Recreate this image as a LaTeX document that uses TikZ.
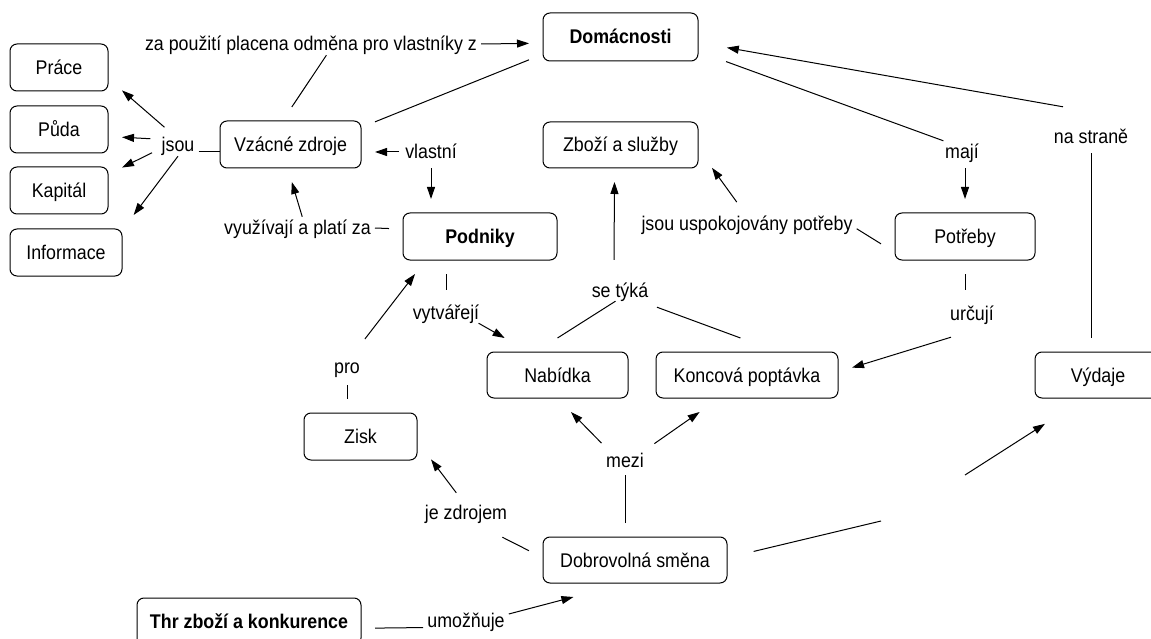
\documentclass[tikz,border=0pt]{standalone}
\usepackage{fontspec}
\setmainfont{Liberation Sans}[FakeStretch=0.9]
\usetikzlibrary{arrows.meta}
\begin{document}
\begin{tikzpicture}[x=1pt,y=-1pt,font=\fontsize{19.8pt}{22pt}\selectfont,
 box/.style={draw,rounded corners=7pt,line width=1pt,minimum height=47pt,text height=14pt,text depth=0pt,inner sep=0pt,outer sep=14pt},
 lab/.style={inner sep=4pt,text height=14pt,text depth=0pt},
 ln/.style={line width=1pt},
 arr/.style={ln,-{Triangle[length=12pt,width=8pt]}}]
\fill[white] (0,0) rectangle (1151,639);
\useasboundingbox (0,0) rectangle (1151,639);
\clip (0,0) rectangle (1151,639);
% concepts
\node[box,minimum width=98pt] (prace) at (59,67.5) {Práce};
\node[box,minimum width=98pt] (puda) at (59,129.5) {Půda};
\node[box,minimum width=98pt] (kapital) at (59,190.5) {Kapitál};
\node[box,minimum width=112pt] (informace) at (66,252.5) {Informace};
\node[box,minimum width=141pt] (vzacne) at (290.5,144.5) {Vzácné zdroje};
\node[box,minimum width=155pt,minimum height=48pt] (domacnosti) at (620.5,37) {\bfseries Domácnosti};
\node[box,minimum width=155pt,minimum height=46pt] (zbozi) at (620.5,145) {Zboží a služby};
\node[box,minimum width=154pt] (podniky) at (480,236.5) {\bfseries Podniky};
\node[box,minimum width=140pt] (potreby) at (965,236.5) {Potřeby};
\node[box,minimum width=141pt,minimum height=46pt] (nabidka) at (557.5,375) {Nabídka};
\node[box,minimum width=182pt,minimum height=46pt] (koncova) at (747,375) {Koncová poptávka};
\node[box,minimum width=126pt,minimum height=46pt] (vydaje) at (1098,375) {Výdaje};
\node[box,minimum width=113pt] (zisk) at (360.5,436.5) {Zisk};
\node[box,minimum width=184pt,minimum height=46pt] (dobrovolna) at (635,560) {Dobrovolná směna};
\node[box,minimum width=224pt] (thr) at (249,621.5) {\bfseries Thr zboží a konkurence};
% linking phrases
\node[lab] (jsou) at (178,145) {jsou};
\node[lab] (zapouziti) at (311,44) {za použití placena odměna pro vlastníky z};
\node[lab] (vyuzivaji) at (297.5,228) {využívají a platí za};
\node[lab] (vlastni) at (431,152) {vlastní};
\node[lab] (maji) at (962,152) {mají};
\node[lab] (uspok) at (747,223) {jsou uspokojovány potřeby};
\node[lab] (nastrane) at (1091,137) {na straně};
\node[lab] (urcuji) at (972,313) {určují};
\node[lab] (setyka) at (620,290) {se týká};
\node[lab] (vytvareji) at (446,312) {vytvářejí};
\node[lab] (pro) at (347,366) {pro};
\node[lab] (mezi) at (625,460) {mezi};
\node[lab] (zdrojem) at (466,512) {je zdrojem};
\node[lab] (umoznuje) at (466,620) {umožňuje};
\coordinate (gA) at (881,521);
\coordinate (gB) at (965,475);
% connectors
\draw[arr,shorten <=10pt] (jsou.118) -- (prace.-20);
\draw[arr,shorten <=7pt] (jsou.164) -- (puda.-7);
\draw[arr,shorten <=6pt] (jsou.194) -- (kapital.20);
\draw[arr] (jsou.-90) -- (informace.29);
\draw[ln,shorten >=-14pt] ([yshift=-7pt]jsou.east) -- ([yshift=-7pt]jsou.east -| vzacne.west);
\draw[ln] (vzacne.88) -- (zapouziti.-36);
\draw[arr] (zapouziti.east) -- (domacnosti.184);
\draw[ln] (vzacne.15.5) -- (domacnosti.194.3);
\draw[arr] (vyuzivaji.67) -- (vzacne.-88);
\draw[ln] (podniky.175) -- (vyuzivaji.east);
\draw[arr,shorten <=2pt] (vlastni.west) -- (vzacne.east |- vlastni.west);
\draw[arr,shorten <=5pt] (vlastni.south) -- (vlastni.south |- podniky.north);
\draw[ln,shorten <=15pt] (domacnosti.-12) -- (maji.149);
\draw[arr,shorten <=5pt] (maji.south -| potreby.north) -- (potreby.north);
\draw[arr,shorten >=15pt] ([xshift=-28pt,yshift=19pt]nastrane.north) -- (domacnosti.-5);
\draw[ln,shorten <=5pt] (nastrane.south) -- (nastrane.south |- vydaje.north);
\draw[ln] (potreby.185) -- (uspok.-3);
\draw[arr,shorten <=12pt] (uspok.106) -- (zbozi.-14);
\draw[ln,shorten >=12pt] (potreby.south) -- (potreby.south |- urcuji.north);
\draw[arr] ([xshift=-21pt,yshift=-13pt]urcuji.south) -- (koncova.4);
\draw[arr] ([xshift=-6pt,yshift=19pt]setyka.north) -- ([xshift=-6pt]zbozi.south);
\draw[ln] (setyka.248) -- (nabidka.north);
\draw[ln] ([xshift=4.5pt,yshift=-6pt]setyka.south east) -- (koncova.100);
\draw[ln,shorten >=11pt] (podniky.228) -- (podniky.228 |- vytvareji.north);
\draw[arr] (vytvareji.-19) -- (nabidka.145.6);
\draw[arr,shorten <=20pt] (pro.63) -- (podniky.210.6);
\draw[ln,shorten <=8pt] (pro.south) -- (pro.south |- zisk.north);
\draw[arr,shorten <=10pt] (zdrojem.108) -- (zisk.-18.4);
\draw[ln] (dobrovolna.175.6) -- ([xshift=-9pt,yshift=-14pt]zdrojem.south east);
\draw[ln,shorten >=4pt] (mezi.south |- dobrovolna.north) -- (mezi.south);
\draw[arr,shorten <=8pt] (mezi.148) -- (nabidka.-70);
\draw[arr,shorten <=9pt] (mezi.27) -- (koncova.218);
\draw[arr] (umoznuje.8) -- (dobrovolna.211);
\draw[ln] (thr.-3.4) -- (umoznuje.190);
\draw[ln,shorten <=13pt] (dobrovolna.3.8) -- (gA);
\draw[arr,shorten >=22pt] (gB) -- (vydaje.227);
\end{tikzpicture}
\end{document}
